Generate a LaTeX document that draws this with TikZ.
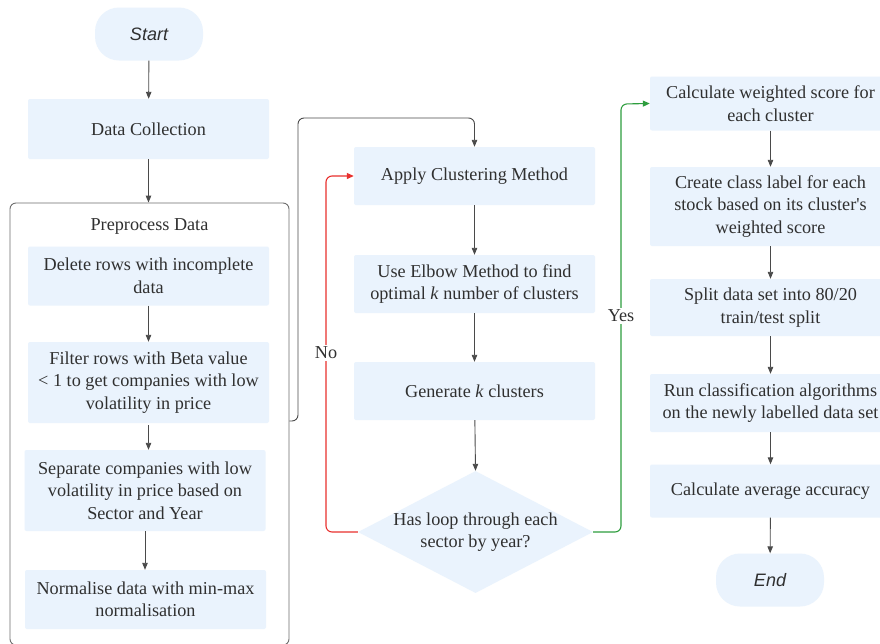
\documentclass[tikz,border=0pt]{standalone}
\usepackage{fontspec}
\setmainfont{Liberation Serif}[Ligatures=TeXOff]
\newfontfamily\pillfont{Liberation Sans}
\usetikzlibrary{arrows.meta,shapes.geometric}
\definecolor{boxfill}{HTML}{EAF3FD}
\definecolor{txtcol}{HTML}{303030}
\definecolor{linecol}{HTML}{4A4A4A}
\definecolor{nored}{HTML}{E8302E}
\definecolor{yesgreen}{HTML}{2E9E3E}
\tikzset{
  stepbox/.style={rectangle, fill=boxfill, draw=none, minimum width=241pt, text=txtcol, align=center, font=\fontsize{18.2}{22.5}\selectfont, rounded corners=2pt, inner sep=0pt},
  pill/.style={rectangle, rounded corners=24pt, fill=boxfill, minimum width=108pt, minimum height=53pt, text=txtcol, font=\pillfont\itshape\fontsize{18}{20}\selectfont},
  txt/.style={text=txtcol, align=center, font=\fontsize{18.2}{22.5}\selectfont},
  conn/.style={draw=linecol, line width=0.9pt, -{Triangle[length=7pt,width=5.5pt]}},
  loopline/.style={line width=1.1pt, rounded corners=6pt, -{Triangle[length=7pt,width=6pt]}},
  container/.style={rectangle, draw=linecol!80, line width=0.9pt, rounded corners=6pt, fill=none}
}
\begin{document}
\begin{tikzpicture}[x=1pt,y=-1pt]
\useasboundingbox (0,0) rectangle (880,643);
\clip (0,0) rectangle (880,643);
\fill[white] (0,0) rectangle (880,643);
% left column
\node[pill] (start) at (149,34) {Start};
\node[stepbox, minimum height=60pt] (collect) at (148.5,129) {Data Collection};
\node[container, minimum width=279pt, minimum height=442pt] (pre) at (149.5,424) {};
\node[txt] (pretitle) at (149.5,226) {Preprocess Data};
\node[stepbox, minimum height=59pt] (delete) at (148.5,276) {Delete rows with incomplete\\data};
\node[stepbox, minimum height=81pt] (filter) at (148.5,382.5) {Filter rows with Beta value\\< 1 to get companies with low\\volatility in price};
\node[stepbox, minimum height=81pt] (separate) at (145,490.5) {Separate companies with low\\volatility in price based on\\Sector and Year};
\node[stepbox, minimum height=59pt] (normal) at (145.5,599.5) {Normalise data with min-max\\normalisation};
% middle column
\node[stepbox, minimum height=58pt] (apply) at (474.5,176) {Apply Clustering Method};
\node[stepbox, minimum height=58pt] (elbow) at (474.5,284) {Use Elbow Method to find\\optimal \textit{k} number of clusters};
\node[stepbox, minimum height=58pt] (gen) at (474.5,391) {Generate \textit{k} clusters};
\node[diamond, fill=boxfill, minimum width=235pt, minimum height=122pt, inner sep=0pt] (dec) at (475.5,532) {};
\node[txt] (dectext) at (dec) {Has loop through each\\sector by year?};
% right column
\node[stepbox, minimum height=54pt] (wscore) at (770.5,103.5) {Calculate weighted score for\\each cluster};
\node[stepbox, minimum height=79pt] (label) at (770.5,206.5) {Create class label for each\\stock based on its cluster's\\weighted score};
\node[stepbox, minimum height=57pt] (split) at (770.5,307.5) {Split data set into 80/20\\train/test split};
\node[stepbox, minimum height=58pt] (run) at (770.5,403) {Run classification algorithms\\on the newly labelled data set};
\node[stepbox, minimum height=53pt] (avg) at (770.5,491) {Calculate average accuracy};
\node[pill] (end) at (770,580) {End};
% connectors
\draw[conn] (start) -- (collect);
\draw[conn] (collect) -- (pre.north -| collect);
\draw[conn] (delete) -- (filter.north -| delete);
\draw[conn] (filter.south) ++(0,2) -- (separate.north -| filter);
\draw[conn] (separate) -- (normal.north -| separate);
\coordinate (preout) at (pre.east |- 0,421);
\draw[draw=linecol, line width=0.9pt, rounded corners=6pt, -{Triangle[length=7pt,width=5.5pt]}] (preout) -- (298,421) -- (298,118) -- (474.5,118) -- (apply.north);
\draw[conn] (apply) -- (elbow);
\draw[conn] (elbow) -- (gen);
\draw[conn] (gen) -- (dec.north);
\draw[loopline, draw=nored] (dec.west) -- (326,532) -- (326,176) -- (apply.west);
\node[txt, fill=white, inner sep=2pt] (nolab) at (326,353) {No};
\draw[loopline, draw=yesgreen] (dec.east) -- (621,532) -- (621,104) -- (wscore.west);
\node[txt, fill=white, inner sep=2pt] (yeslab) at (621,316) {Yes};
\draw[conn] (wscore) -- (label);
\draw[conn] (label) -- (split);
\draw[conn] (split) -- (run);
\draw[conn] (run) -- (avg);
\draw[conn] (avg) -- (end);
\end{tikzpicture}
\end{document}
